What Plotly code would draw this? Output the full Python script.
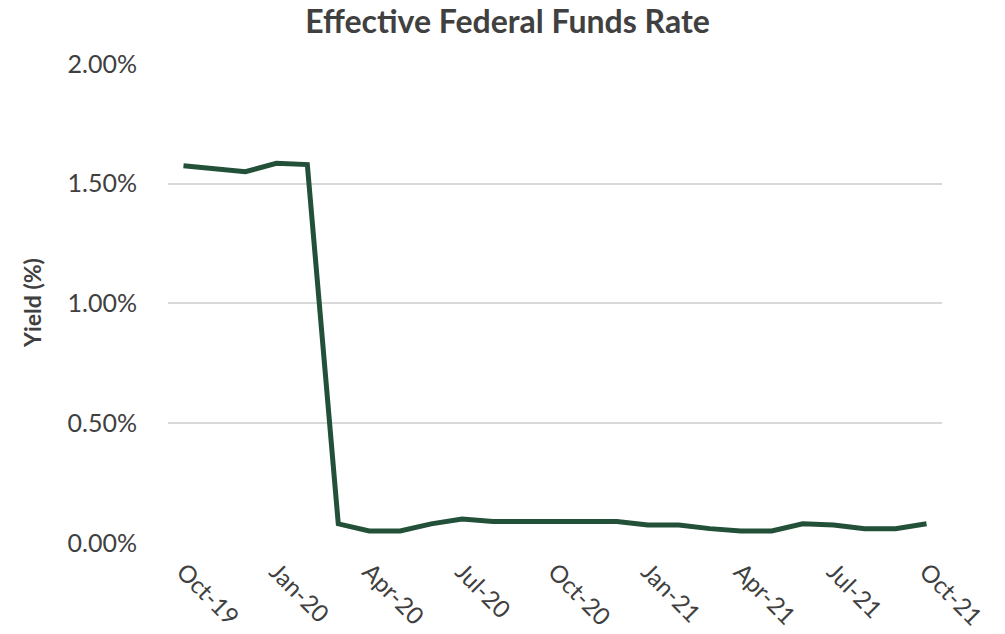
import plotly.graph_objects as go

months = ["Oct-19", "Nov-19", "Dec-19", "Jan-20", "Feb-20", "Mar-20", "Apr-20", "May-20",
          "Jun-20", "Jul-20", "Aug-20", "Sep-20", "Oct-20", "Nov-20", "Dec-20", "Jan-21",
          "Feb-21", "Mar-21", "Apr-21", "May-21", "Jun-21", "Jul-21", "Aug-21", "Sep-21", "Oct-21"]
yield_pct = [1.575, 1.56, 1.55, 1.585, 1.58, 0.08, 0.05, 0.05,
             0.08, 0.10, 0.09, 0.09, 0.09, 0.09, 0.09, 0.075,
             0.075, 0.06, 0.05, 0.05, 0.08, 0.075, 0.06, 0.06, 0.08]
tick_labels = months[::3]
y_ticks = [0, 0.5, 1.0, 1.5, 2.0]
y_tick_text = ["0.00%", "0.50%", "1.00%", "1.50%", "2.00%"]

FONT = "Lato"
TXT = "#404040"

fig = go.Figure()
fig.add_trace(go.Scatter(x=months, y=yield_pct, mode="lines",
                         line=dict(color="#235038", width=5), hoverinfo="x+y"))

fig.update_layout(
    width=1005, height=634,
    margin=dict(l=168, r=63, t=63, b=91, autoexpand=False),
    paper_bgcolor="white", plot_bgcolor="white",
    showlegend=False,
    title=dict(text="<b>Effective Federal Funds Rate</b>", x=0.505, xanchor="center",
               y=0.965, yanchor="middle",
               font=dict(family=FONT, size=32, color=TXT)),
    font=dict(family=FONT, color=TXT),
)
fig.update_xaxes(type="category", categoryorder="array", categoryarray=months,
                 range=[-0.5, len(months) - 0.5], automargin=False,
                 tickmode="array", tickvals=tick_labels, ticktext=tick_labels,
                 tickangle=45, tickfont=dict(family=FONT, size=24, color=TXT),
                 showgrid=False, showline=False, ticks="", zeroline=False,
                 ticklabelstandoff=9)
fig.update_yaxes(range=[0, 2.004], automargin=False,
                 tickmode="array", tickvals=y_ticks, ticktext=y_tick_text,
                 tickfont=dict(family=FONT, size=25, color=TXT),
                 showgrid=True, gridcolor="#D9D9D9", gridwidth=2,
                 zeroline=False, showline=False, ticks="", ticklabelstandoff=30)
fig.add_annotation(text="<b>Yield (%)</b>", xref="paper", yref="paper", x=0, y=0.5,
                   xanchor="center", yanchor="middle", xshift=-136, textangle=-90,
                   showarrow=False, font=dict(family=FONT, size=23, color=TXT))

fig.write_html("out.html", config={"displayModeBar": False},
               post_script="document.body.style.margin='0';document.body.style.overflow='hidden';")
